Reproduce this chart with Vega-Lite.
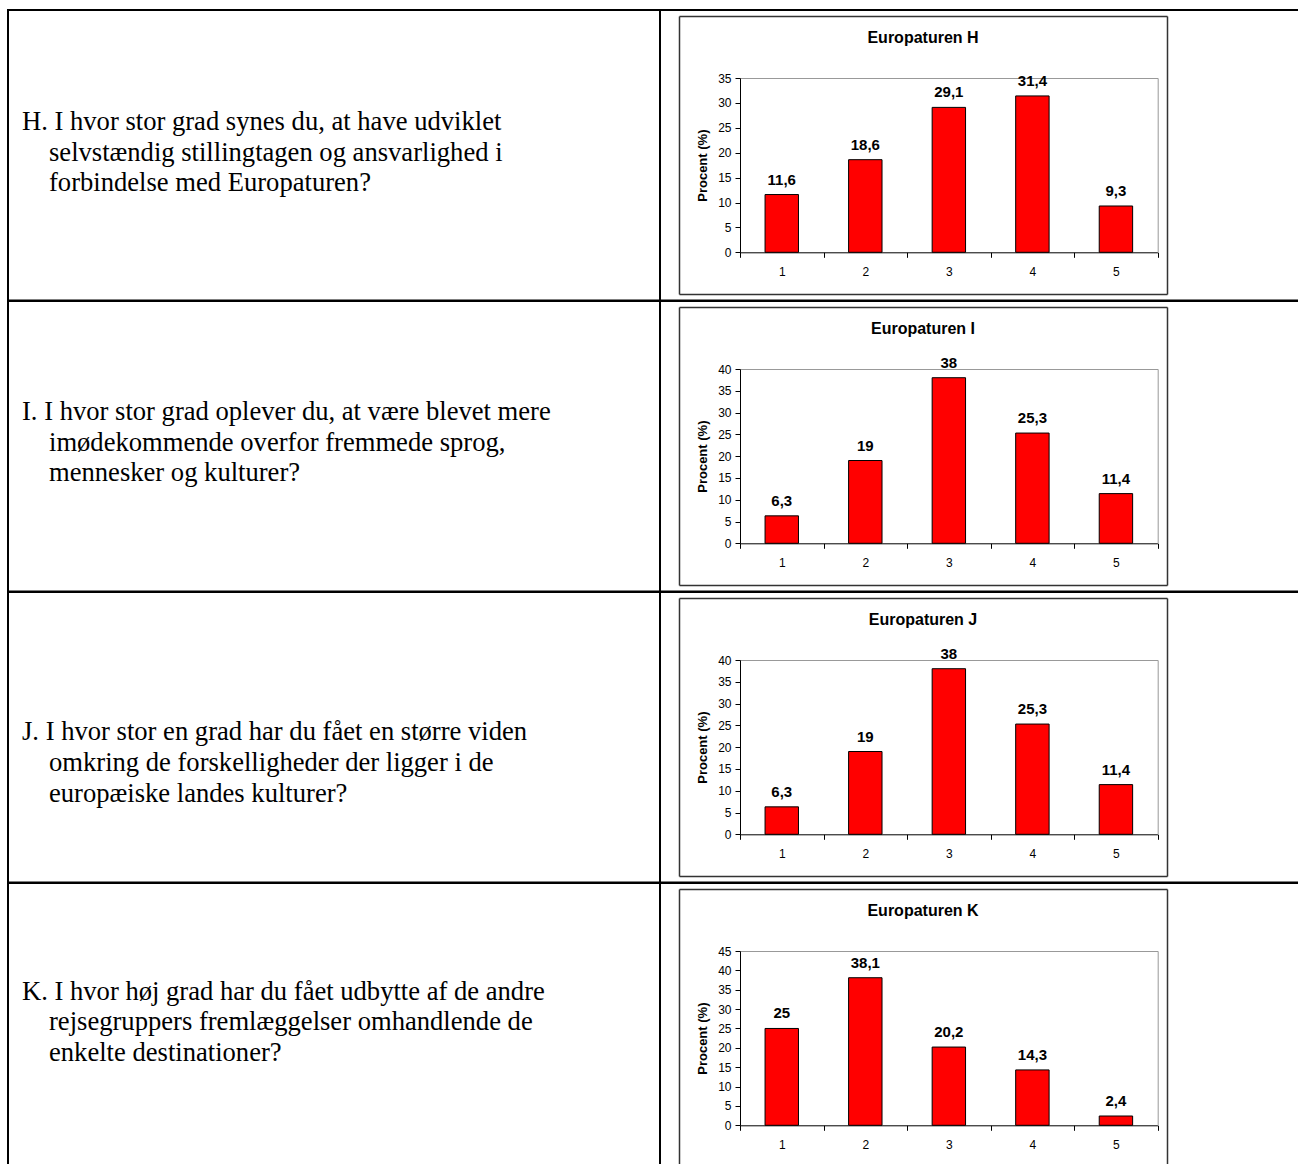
{
  "$schema": "https://vega.github.io/schema/vega-lite/v6.json",
  "padding": {"left": 7, "top": 9, "right": -3, "bottom": -3.5},
  "background": "white",
  "datasets": {
    "questions": [
      {"q": "H", "line": 1, "text": "H. I hvor stor grad synes du, at have udviklet"},
      {"q": "H", "line": 2, "text": "selvstændig stillingtagen og ansvarlighed i"},
      {"q": "H", "line": 3, "text": "forbindelse med Europaturen?"},
      {"q": "I", "line": 1, "text": "I. I hvor stor grad oplever du, at være blevet mere"},
      {"q": "I", "line": 2, "text": "imødekommende overfor fremmede sprog,"},
      {"q": "I", "line": 3, "text": "mennesker og kulturer?"},
      {"q": "J", "line": 1, "text": "J. I hvor stor en grad har du fået en større viden"},
      {"q": "J", "line": 2, "text": "omkring de forskelligheder der ligger i de"},
      {"q": "J", "line": 3, "text": "europæiske landes kulturer?"},
      {"q": "K", "line": 1, "text": "K. I hvor høj grad har du fået udbytte af de andre"},
      {"q": "K", "line": 2, "text": "rejsegruppers fremlæggelser omhandlende de"},
      {"q": "K", "line": 3, "text": "enkelte destinationer?"}
    ],
    "bars": [
      {"chart": "H", "k": "1", "v": 11.6},
      {"chart": "H", "k": "2", "v": 18.6},
      {"chart": "H", "k": "3", "v": 29.1},
      {"chart": "H", "k": "4", "v": 31.4},
      {"chart": "H", "k": "5", "v": 9.3},
      {"chart": "I", "k": "1", "v": 6.3},
      {"chart": "I", "k": "2", "v": 19},
      {"chart": "I", "k": "3", "v": 38},
      {"chart": "I", "k": "4", "v": 25.3},
      {"chart": "I", "k": "5", "v": 11.4},
      {"chart": "J", "k": "1", "v": 6.3},
      {"chart": "J", "k": "2", "v": 19},
      {"chart": "J", "k": "3", "v": 38},
      {"chart": "J", "k": "4", "v": 25.3},
      {"chart": "J", "k": "5", "v": 11.4},
      {"chart": "K", "k": "1", "v": 25},
      {"chart": "K", "k": "2", "v": 38.1},
      {"chart": "K", "k": "3", "v": 20.2},
      {"chart": "K", "k": "4", "v": 14.3},
      {"chart": "K", "k": "5", "v": 2.4}
    ]
  },
  "columns": 2,
  "spacing": 0,
  "bounds": "flush",
  "align": "all",
  "concat": [
    {
      "width": 652, "height": 290.5,
      "view": {"stroke": "#000", "strokeWidth": 2},
      "data": {"name": "questions"},
      "transform": [{"filter": "datum.q == 'H'"}],
      "encoding": {
        "y": {"field": "line", "type": "ordinal", "scale": {"type": "point", "domain": [1, 2, 3], "range": [120, 181], "padding": 0}, "axis": null},
        "text": {"field": "text"}
      },
      "layer": [
        {"transform": [{"filter": "datum.line == 1"}],
         "mark": {"type": "text", "align": "left", "baseline": "alphabetic", "font": "Liberation Serif", "fontSize": 26.6, "color": "#000"},
         "encoding": {"x": {"value": 14}}},
        {"transform": [{"filter": "datum.line > 1"}],
         "mark": {"type": "text", "align": "left", "baseline": "alphabetic", "font": "Liberation Serif", "fontSize": 26.6, "color": "#000"},
         "encoding": {"x": {"value": 41}}}
      ]
    },
    {
      "width": 640, "height": 290.5,
      "view": {"stroke": "#000", "strokeWidth": 2},
      "title": "Europaturen H",
      "data": {"name": "bars"},
      "transform": [{"filter": "datum.chart == 'H'"}],
      "layer": [
        {
          "mark": {"type": "bar", "fill": "#ff0000", "stroke": "#000", "strokeWidth": 1, "width": {"band": 0.4}},
          "encoding": {
            "x": {"field": "k", "type": "ordinal", "scale": {"type": "band", "range": [80, 497.7], "paddingInner": 0, "paddingOuter": 0},
              "axis": {"orient": "bottom", "offset": -48.2, "tickBand": "extent", "tickSize": 5, "labelPadding": 9, "labelAngle": 0, "title": null}},
            "y": {"field": "v", "type": "quantitative", "scale": {"domain": [0, 35], "range": [242.3, 68], "nice": false},
              "axis": {"orient": "left", "offset": -80, "values": [0, 5, 10, 15, 20, 25, 30, 35], "tickSize": 5, "labelPadding": 4, "title": "Procent (%)", "titlePadding": 8}}
          }
        },
        {
          "mark": {"type": "text", "font": "Liberation Sans", "fontSize": 15, "fontWeight": "bold", "baseline": "alphabetic", "dy": -10, "color": "#000"},
          "encoding": {
            "x": {"field": "k", "type": "ordinal", "scale": {"type": "band", "range": [80, 497.7], "paddingInner": 0, "paddingOuter": 0},
              "axis": {"orient": "top", "offset": -68, "domainColor": "#999", "ticks": false, "labels": false, "title": null}},
            "y": {"field": "v", "type": "quantitative", "scale": {"domain": [0, 35], "range": [242.3, 68], "nice": false},
              "axis": {"orient": "right", "offset": -142.3, "domainColor": "#999", "ticks": false, "labels": false, "title": null}},
            "text": {"field": "v", "type": "quantitative", "format": "~g"}
          }
        },
        {
          "mark": {"type": "point", "opacity": 0, "clip": true},
          "encoding": {
            "x": {"field": "v", "type": "quantitative", "scale": {"domain": [0, 50], "range": [19, 507], "nice": false},
              "axis": {"orient": "bottom", "offset": -6.5, "domainColor": "#333", "domainWidth": 1.5, "ticks": false, "labels": false, "title": null}},
            "y": {"field": "v", "type": "quantitative", "scale": {"domain": [0, 50], "range": [284, 6], "nice": false},
              "axis": {"orient": "left", "offset": -19, "domainColor": "#333", "domainWidth": 1.5, "ticks": false, "labels": false, "title": null}}
          }
        },
        {
          "mark": {"type": "point", "opacity": 0, "clip": true},
          "encoding": {
            "x": {"field": "v", "type": "quantitative", "scale": {"domain": [0, 50], "range": [19, 507], "nice": false},
              "axis": {"orient": "top", "offset": -6, "domainColor": "#333", "domainWidth": 1.5, "ticks": false, "labels": false, "title": null}},
            "y": {"field": "v", "type": "quantitative", "scale": {"domain": [0, 50], "range": [284, 6], "nice": false},
              "axis": {"orient": "right", "offset": -133, "domainColor": "#333", "domainWidth": 1.5, "ticks": false, "labels": false, "title": null}}
          }
        }
      ],
      "resolve": {"scale": {"x": "independent", "y": "independent"}, "axis": {"x": "independent", "y": "independent"}}
    },
    {
      "width": 652, "height": 290.5,
      "view": {"stroke": "#000", "strokeWidth": 2},
      "data": {"name": "questions"},
      "transform": [{"filter": "datum.q == 'I'"}],
      "encoding": {
        "y": {"field": "line", "type": "ordinal", "scale": {"type": "point", "domain": [1, 2, 3], "range": [119, 180], "padding": 0}, "axis": null},
        "text": {"field": "text"}
      },
      "layer": [
        {"transform": [{"filter": "datum.line == 1"}],
         "mark": {"type": "text", "align": "left", "baseline": "alphabetic", "font": "Liberation Serif", "fontSize": 26.6, "color": "#000"},
         "encoding": {"x": {"value": 14}}},
        {"transform": [{"filter": "datum.line > 1"}],
         "mark": {"type": "text", "align": "left", "baseline": "alphabetic", "font": "Liberation Serif", "fontSize": 26.6, "color": "#000"},
         "encoding": {"x": {"value": 41}}}
      ]
    },
    {
      "width": 640, "height": 290.5,
      "view": {"stroke": "#000", "strokeWidth": 2},
      "title": "Europaturen I",
      "data": {"name": "bars"},
      "transform": [{"filter": "datum.chart == 'I'"}],
      "layer": [
        {
          "mark": {"type": "bar", "fill": "#ff0000", "stroke": "#000", "strokeWidth": 1, "width": {"band": 0.4}},
          "encoding": {
            "x": {"field": "k", "type": "ordinal", "scale": {"type": "band", "range": [80, 497.7], "paddingInner": 0, "paddingOuter": 0},
              "axis": {"orient": "bottom", "offset": -48.2, "tickBand": "extent", "tickSize": 5, "labelPadding": 9, "labelAngle": 0, "title": null}},
            "y": {"field": "v", "type": "quantitative", "scale": {"domain": [0, 40], "range": [242.3, 68], "nice": false},
              "axis": {"orient": "left", "offset": -80, "values": [0, 5, 10, 15, 20, 25, 30, 35, 40], "tickSize": 5, "labelPadding": 4, "title": "Procent (%)", "titlePadding": 8}}
          }
        },
        {
          "mark": {"type": "text", "font": "Liberation Sans", "fontSize": 15, "fontWeight": "bold", "baseline": "alphabetic", "dy": -10, "color": "#000"},
          "encoding": {
            "x": {"field": "k", "type": "ordinal", "scale": {"type": "band", "range": [80, 497.7], "paddingInner": 0, "paddingOuter": 0},
              "axis": {"orient": "top", "offset": -68, "domainColor": "#999", "ticks": false, "labels": false, "title": null}},
            "y": {"field": "v", "type": "quantitative", "scale": {"domain": [0, 40], "range": [242.3, 68], "nice": false},
              "axis": {"orient": "right", "offset": -142.3, "domainColor": "#999", "ticks": false, "labels": false, "title": null}},
            "text": {"field": "v", "type": "quantitative", "format": "~g"}
          }
        },
        {
          "mark": {"type": "point", "opacity": 0, "clip": true},
          "encoding": {
            "x": {"field": "v", "type": "quantitative", "scale": {"domain": [0, 50], "range": [19, 507], "nice": false},
              "axis": {"orient": "bottom", "offset": -6.5, "domainColor": "#333", "domainWidth": 1.5, "ticks": false, "labels": false, "title": null}},
            "y": {"field": "v", "type": "quantitative", "scale": {"domain": [0, 50], "range": [284, 6], "nice": false},
              "axis": {"orient": "left", "offset": -19, "domainColor": "#333", "domainWidth": 1.5, "ticks": false, "labels": false, "title": null}}
          }
        },
        {
          "mark": {"type": "point", "opacity": 0, "clip": true},
          "encoding": {
            "x": {"field": "v", "type": "quantitative", "scale": {"domain": [0, 50], "range": [19, 507], "nice": false},
              "axis": {"orient": "top", "offset": -6, "domainColor": "#333", "domainWidth": 1.5, "ticks": false, "labels": false, "title": null}},
            "y": {"field": "v", "type": "quantitative", "scale": {"domain": [0, 50], "range": [284, 6], "nice": false},
              "axis": {"orient": "right", "offset": -133, "domainColor": "#333", "domainWidth": 1.5, "ticks": false, "labels": false, "title": null}}
          }
        }
      ],
      "resolve": {"scale": {"x": "independent", "y": "independent"}, "axis": {"x": "independent", "y": "independent"}}
    },
    {
      "width": 652, "height": 290.5,
      "view": {"stroke": "#000", "strokeWidth": 2},
      "data": {"name": "questions"},
      "transform": [{"filter": "datum.q == 'J'"}],
      "encoding": {
        "y": {"field": "line", "type": "ordinal", "scale": {"type": "point", "domain": [1, 2, 3], "range": [148, 209.5], "padding": 0}, "axis": null},
        "text": {"field": "text"}
      },
      "layer": [
        {"transform": [{"filter": "datum.line == 1"}],
         "mark": {"type": "text", "align": "left", "baseline": "alphabetic", "font": "Liberation Serif", "fontSize": 26.6, "color": "#000"},
         "encoding": {"x": {"value": 14}}},
        {"transform": [{"filter": "datum.line > 1"}],
         "mark": {"type": "text", "align": "left", "baseline": "alphabetic", "font": "Liberation Serif", "fontSize": 26.6, "color": "#000"},
         "encoding": {"x": {"value": 41}}}
      ]
    },
    {
      "width": 640, "height": 290.5,
      "view": {"stroke": "#000", "strokeWidth": 2},
      "title": "Europaturen J",
      "data": {"name": "bars"},
      "transform": [{"filter": "datum.chart == 'J'"}],
      "layer": [
        {
          "mark": {"type": "bar", "fill": "#ff0000", "stroke": "#000", "strokeWidth": 1, "width": {"band": 0.4}},
          "encoding": {
            "x": {"field": "k", "type": "ordinal", "scale": {"type": "band", "range": [80, 497.7], "paddingInner": 0, "paddingOuter": 0},
              "axis": {"orient": "bottom", "offset": -48.2, "tickBand": "extent", "tickSize": 5, "labelPadding": 9, "labelAngle": 0, "title": null}},
            "y": {"field": "v", "type": "quantitative", "scale": {"domain": [0, 40], "range": [242.3, 68], "nice": false},
              "axis": {"orient": "left", "offset": -80, "values": [0, 5, 10, 15, 20, 25, 30, 35, 40], "tickSize": 5, "labelPadding": 4, "title": "Procent (%)", "titlePadding": 8}}
          }
        },
        {
          "mark": {"type": "text", "font": "Liberation Sans", "fontSize": 15, "fontWeight": "bold", "baseline": "alphabetic", "dy": -10, "color": "#000"},
          "encoding": {
            "x": {"field": "k", "type": "ordinal", "scale": {"type": "band", "range": [80, 497.7], "paddingInner": 0, "paddingOuter": 0},
              "axis": {"orient": "top", "offset": -68, "domainColor": "#999", "ticks": false, "labels": false, "title": null}},
            "y": {"field": "v", "type": "quantitative", "scale": {"domain": [0, 40], "range": [242.3, 68], "nice": false},
              "axis": {"orient": "right", "offset": -142.3, "domainColor": "#999", "ticks": false, "labels": false, "title": null}},
            "text": {"field": "v", "type": "quantitative", "format": "~g"}
          }
        },
        {
          "mark": {"type": "point", "opacity": 0, "clip": true},
          "encoding": {
            "x": {"field": "v", "type": "quantitative", "scale": {"domain": [0, 50], "range": [19, 507], "nice": false},
              "axis": {"orient": "bottom", "offset": -6.5, "domainColor": "#333", "domainWidth": 1.5, "ticks": false, "labels": false, "title": null}},
            "y": {"field": "v", "type": "quantitative", "scale": {"domain": [0, 50], "range": [284, 6], "nice": false},
              "axis": {"orient": "left", "offset": -19, "domainColor": "#333", "domainWidth": 1.5, "ticks": false, "labels": false, "title": null}}
          }
        },
        {
          "mark": {"type": "point", "opacity": 0, "clip": true},
          "encoding": {
            "x": {"field": "v", "type": "quantitative", "scale": {"domain": [0, 50], "range": [19, 507], "nice": false},
              "axis": {"orient": "top", "offset": -6, "domainColor": "#333", "domainWidth": 1.5, "ticks": false, "labels": false, "title": null}},
            "y": {"field": "v", "type": "quantitative", "scale": {"domain": [0, 50], "range": [284, 6], "nice": false},
              "axis": {"orient": "right", "offset": -133, "domainColor": "#333", "domainWidth": 1.5, "ticks": false, "labels": false, "title": null}}
          }
        }
      ],
      "resolve": {"scale": {"x": "independent", "y": "independent"}, "axis": {"x": "independent", "y": "independent"}}
    },
    {
      "width": 652, "height": 283,
      "view": {"stroke": "#000", "strokeWidth": 2},
      "data": {"name": "questions"},
      "transform": [{"filter": "datum.q == 'K'"}],
      "encoding": {
        "y": {"field": "line", "type": "ordinal", "scale": {"type": "point", "domain": [1, 2, 3], "range": [116.5, 178], "padding": 0}, "axis": null},
        "text": {"field": "text"}
      },
      "layer": [
        {"transform": [{"filter": "datum.line == 1"}],
         "mark": {"type": "text", "align": "left", "baseline": "alphabetic", "font": "Liberation Serif", "fontSize": 26.6, "color": "#000"},
         "encoding": {"x": {"value": 14}}},
        {"transform": [{"filter": "datum.line > 1"}],
         "mark": {"type": "text", "align": "left", "baseline": "alphabetic", "font": "Liberation Serif", "fontSize": 26.6, "color": "#000"},
         "encoding": {"x": {"value": 41}}}
      ]
    },
    {
      "width": 640, "height": 283,
      "view": {"stroke": "#000", "strokeWidth": 2},
      "title": "Europaturen K",
      "data": {"name": "bars"},
      "transform": [{"filter": "datum.chart == 'K'"}],
      "layer": [
        {
          "mark": {"type": "bar", "fill": "#ff0000", "stroke": "#000", "strokeWidth": 1, "width": {"band": 0.4}},
          "encoding": {
            "x": {"field": "k", "type": "ordinal", "scale": {"type": "band", "range": [80, 497.7], "paddingInner": 0, "paddingOuter": 0},
              "axis": {"orient": "bottom", "offset": -40.7, "tickBand": "extent", "tickSize": 5, "labelPadding": 9, "labelAngle": 0, "title": null}},
            "y": {"field": "v", "type": "quantitative", "scale": {"domain": [0, 45], "range": [242.3, 68], "nice": false},
              "axis": {"orient": "left", "offset": -80, "values": [0, 5, 10, 15, 20, 25, 30, 35, 40, 45], "tickSize": 5, "labelPadding": 4, "title": "Procent (%)", "titlePadding": 8}}
          }
        },
        {
          "mark": {"type": "text", "font": "Liberation Sans", "fontSize": 15, "fontWeight": "bold", "baseline": "alphabetic", "dy": -10, "color": "#000"},
          "encoding": {
            "x": {"field": "k", "type": "ordinal", "scale": {"type": "band", "range": [80, 497.7], "paddingInner": 0, "paddingOuter": 0},
              "axis": {"orient": "top", "offset": -68, "domainColor": "#999", "ticks": false, "labels": false, "title": null}},
            "y": {"field": "v", "type": "quantitative", "scale": {"domain": [0, 45], "range": [242.3, 68], "nice": false},
              "axis": {"orient": "right", "offset": -142.3, "domainColor": "#999", "ticks": false, "labels": false, "title": null}},
            "text": {"field": "v", "type": "quantitative", "format": "~g"}
          }
        },
        {
          "mark": {"type": "point", "opacity": 0, "clip": true},
          "encoding": {
            "x": {"field": "v", "type": "quantitative", "scale": {"domain": [0, 50], "range": [19, 507], "nice": false},
              "axis": {"orient": "bottom", "offset": 1, "domainColor": "#333", "domainWidth": 1.5, "ticks": false, "labels": false, "title": null}},
            "y": {"field": "v", "type": "quantitative", "scale": {"domain": [0, 50], "range": [284, 6], "nice": false},
              "axis": {"orient": "left", "offset": -19, "domainColor": "#333", "domainWidth": 1.5, "ticks": false, "labels": false, "title": null}}
          }
        },
        {
          "mark": {"type": "point", "opacity": 0, "clip": true},
          "encoding": {
            "x": {"field": "v", "type": "quantitative", "scale": {"domain": [0, 50], "range": [19, 507], "nice": false},
              "axis": {"orient": "top", "offset": -6, "domainColor": "#333", "domainWidth": 1.5, "ticks": false, "labels": false, "title": null}},
            "y": {"field": "v", "type": "quantitative", "scale": {"domain": [0, 50], "range": [284, 6], "nice": false},
              "axis": {"orient": "right", "offset": -133, "domainColor": "#333", "domainWidth": 1.5, "ticks": false, "labels": false, "title": null}}
          }
        }
      ],
      "resolve": {"scale": {"x": "independent", "y": "independent"}, "axis": {"x": "independent", "y": "independent"}}
    }
  ],
  "config": {
    "locale": {"number": {"decimal": ",", "thousands": ".", "grouping": [3], "currency": ["", " kr."]}},
    "axis": {
      "grid": false,
      "labelFont": "Liberation Sans", "labelFontSize": 12, "labelColor": "#000",
      "domainColor": "#000", "domainWidth": 1, "tickColor": "#000", "tickWidth": 1,
      "titleFont": "Liberation Sans", "titleFontSize": 13, "titleFontWeight": "bold", "titleColor": "#000"
    },
    "title": {
      "font": "Liberation Sans", "fontSize": 16, "fontWeight": "bold", "color": "#000",
      "frame": "group", "anchor": "middle", "dx": -57, "offset": -35.5, "baseline": "alphabetic"
    }
  }
}
